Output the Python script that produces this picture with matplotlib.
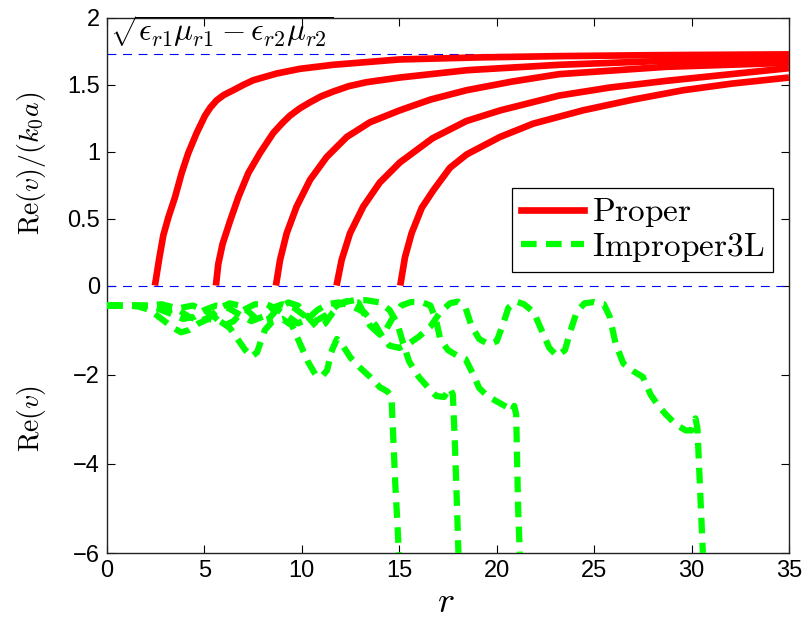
import numpy as np
import matplotlib
matplotlib.use('Agg')
import matplotlib.pyplot as plt
from matplotlib.lines import Line2D

plt.rcParams['mathtext.fontset'] = 'cm'
plt.rcParams['font.family'] = ['Liberation Sans', 'DejaVu Sans']

# ---------------- data ----------------
# Proper modes: Re(v)/(k0 a)
p1_r = [2.46, 2.69, 2.89, 3.15, 3.49, 3.83, 4.17, 4.60, 5.03, 5.3, 5.63, 6.0, 6.48, 7.0, 7.51, 8.71, 9.9, 11.6, 13.3, 15.0, 19.0, 23.2, 28.0, 35.0]
p1_y = [0.0, 0.21, 0.375, 0.51, 0.66, 0.84, 0.99, 1.14, 1.27, 1.33, 1.385, 1.425, 1.46, 1.50, 1.535, 1.585, 1.62, 1.65, 1.67, 1.69, 1.705, 1.715, 1.722, 1.728]
p2_r = [5.59, 5.71, 5.93, 6.31, 6.74, 7.25, 7.85, 8.53, 9.0, 9.39, 9.9, 10.42, 11.0, 11.61, 12.4, 13.32, 15.03, 18.5, 23.2, 28.7, 35.0]
p2_y = [0.0, 0.16, 0.31, 0.48, 0.66, 0.84, 0.99, 1.14, 1.215, 1.27, 1.325, 1.37, 1.415, 1.45, 1.49, 1.52, 1.555, 1.61, 1.65, 1.68, 1.70]
p3_r = [8.67, 8.88, 9.22, 9.73, 10.42, 11.27, 12.3, 13.49, 15.03, 16.6, 18.45, 20.8, 23.2, 28.7, 35.0]
p3_y = [0.0, 0.19, 0.39, 0.59, 0.79, 0.96, 1.11, 1.22, 1.31, 1.39, 1.46, 1.525, 1.58, 1.635, 1.665]
p4_r = [11.78, 12.04, 12.47, 13.15, 14.0, 15.03, 16.7, 18.45, 20.2, 23.2, 25.8, 28.7, 35.0]
p4_y = [0.0, 0.19, 0.39, 0.59, 0.77, 0.92, 1.10, 1.23, 1.31, 1.42, 1.48, 1.53, 1.625]
p5_r = [15.05, 15.29, 15.63, 16.15, 16.74, 17.6, 18.46, 20.16, 21.87, 24.44, 27.0, 29.57, 32.1, 35.0]
p5_y = [0.0, 0.21, 0.39, 0.58, 0.71, 0.88, 0.98, 1.11, 1.21, 1.31, 1.39, 1.46, 1.51, 1.555]

# Improper (3L) modes: Re(v)
g1_r = [0, 1.0, 1.6, 2.2, 2.8, 3.4, 3.8, 4.2, 4.7, 5.2, 5.8, 6.3, 6.7, 7.1, 7.4, 7.7, 7.9, 8.1, 8.5, 9.0, 9.5, 9.9, 10.3, 10.7, 11.0, 11.3, 11.5, 11.8, 12.1, 12.5, 13.0, 13.5, 14.0, 14.4, 14.6, 14.7, 14.8, 14.9, 15.0]
g1_y = [-0.45, -0.45, -0.47, -0.55, -0.75, -0.95, -1.05, -1.0, -0.85, -0.75, -0.8, -0.95, -1.2, -1.45, -1.6, -1.5, -1.25, -1.0, -0.8, -0.75, -0.9, -1.3, -1.7, -2.0, -2.05, -1.9, -1.5, -1.2, -1.35, -1.62, -1.85, -2.05, -2.28, -2.38, -2.5, -3.5, -4.5, -5.3, -6.2]
g2_r = [0, 1.0, 2.0, 2.8, 3.5, 4.2, 4.8, 5.3, 5.8, 6.3, 6.8, 7.3, 7.8, 8.3, 8.8, 9.3, 9.8, 10.3, 10.8, 11.2, 11.6, 12.1, 12.7, 13.3, 14.0, 14.5, 14.9, 15.2, 15.5, 16.0, 16.5, 16.9, 17.3, 17.6, 17.75, 17.85, 17.95, 18.05]
g2_y = [-0.45, -0.45, -0.45, -0.42, -0.5, -0.7, -0.8, -0.7, -0.5, -0.4, -0.45, -0.6, -0.8, -0.75, -0.5, -0.38, -0.45, -0.7, -0.95, -0.85, -0.6, -0.38, -0.33, -0.33, -0.38, -0.55, -0.85, -1.3, -1.7, -2.05, -2.3, -2.48, -2.5, -2.3, -2.45, -3.5, -4.8, -6.2]
g3_r = [0, 1.5, 2.5, 3.2, 3.9, 4.5, 5.0, 5.6, 6.2, 6.8, 7.4, 8.0, 8.5, 9.0, 9.6, 10.2, 10.7, 11.3, 11.8, 12.3, 12.9, 13.5, 14.0, 14.3, 14.7, 15.1, 15.6, 16.2, 16.6, 16.9, 17.1, 17.5, 18.0, 18.4, 18.8, 19.1, 19.5, 20.0, 20.5, 20.8, 20.9, 21.0, 21.05, 21.1, 21.2]
g3_y = [-0.45, -0.45, -0.5, -0.62, -0.75, -0.7, -0.55, -0.45, -0.5, -0.65, -0.8, -0.7, -0.5, -0.42, -0.5, -0.7, -0.8, -0.65, -0.45, -0.35, -0.38, -0.9, -1.1, -1.0, -0.7, -0.45, -0.37, -0.38, -0.45, -0.8, -1.2, -1.45, -1.58, -1.65, -2.0, -2.3, -2.47, -2.6, -2.72, -2.82, -2.7, -2.9, -4.0, -5.0, -6.2]
g4_r = [0, 2.0, 2.6, 3.2, 3.8, 4.4, 5.0, 5.5, 6.0, 6.5, 7.0, 7.6, 8.2, 8.8, 9.3, 9.8, 10.3, 10.8, 11.3, 11.9, 12.5, 13.2, 13.8, 14.2, 14.5, 15.0, 15.5, 16.0, 16.6, 17.1, 17.6, 18.0, 18.4, 18.7, 19.1, 19.6, 20.0, 20.3, 20.6, 21.0, 21.4, 21.9, 22.3, 22.7, 23.1, 23.5, 23.8, 24.1, 24.5, 25.0, 25.5, 25.8, 26.1, 26.5, 27.0, 27.5, 27.9, 28.3, 28.7, 29.2, 29.7, 30.0, 30.2, 30.3, 30.4, 30.5, 30.6]
g4_y = [-0.45, -0.45, -0.48, -0.55, -0.5, -0.45, -0.55, -0.7, -0.9, -0.8, -0.55, -0.42, -0.42, -0.55, -0.7, -0.85, -0.75, -0.55, -0.42, -0.38, -0.45, -0.6, -0.9, -1.2, -1.35, -1.4, -1.3, -1.15, -0.92, -0.6, -0.4, -0.36, -0.5, -0.9, -1.2, -1.32, -1.25, -0.9, -0.5, -0.36, -0.42, -0.6, -1.0, -1.4, -1.58, -1.45, -1.0, -0.6, -0.4, -0.37, -0.42, -0.7, -1.3, -1.75, -1.92, -2.05, -2.45, -2.7, -2.9, -3.12, -3.25, -3.25, -2.98, -3.2, -4.2, -5.2, -6.2]

ref_level = np.sqrt(3.0)
x_ticks = [0, 5, 10, 15, 20, 25, 30, 35]
y_ticks = [-6, -4, -2, 0, 0.5, 1, 1.5, 2]
y_ticklabels = ['\u22126', '\u22124', '\u22122', '0', '0.5', '1', '1.5', '2']

proper = [(p1_r, p1_y), (p2_r, p2_y), (p3_r, p3_y), (p4_r, p4_y), (p5_r, p5_y)]
improper = [(g1_r, g1_y), (g2_r, g2_y), (g3_r, g3_y), (g4_r, g4_y)]

# ---------------- figure ----------------
fig = plt.figure(figsize=(8.1, 6.2), dpi=100)
ax = fig.add_axes([107/810, 1-553/620, 682/810, 535/620])

def fwd(y):
    y = np.asarray(y, dtype=float)
    return np.where(y >= 0, y / 2.0, y / 6.0)

def inv(v):
    v = np.asarray(v, dtype=float)
    return np.where(v >= 0, v * 2.0, v * 6.0)

ax.set_yscale('function', functions=(fwd, inv))

red = '#ff0000'
green = '#00ff00'
blue = '#0000ff'

for r, y in proper:
    ax.plot(r, y, color=red, lw=4.8, solid_capstyle='butt', solid_joinstyle='round', zorder=3)
for r, y in improper:
    ax.plot(r, y, color=green, lw=4.5, dashes=(2.5, 1.5), dash_capstyle='butt', zorder=3)

ax.axhline(0, color=blue, lw=0.8, dashes=(8, 6), zorder=2)
ax.axhline(ref_level, color=blue, lw=0.8, dashes=(8, 6), zorder=2)

ax.set_xlim(0, 35)
ax.set_ylim(-6, 2)
ax.set_xticks(x_ticks)
ax.set_xticklabels([str(t) for t in x_ticks])
ax.set_yticks(y_ticks)
ax.set_yticklabels(y_ticklabels)
ax.minorticks_off()
ax.tick_params(direction='in', length=6, width=0.8, top=True, right=True,
               labelsize=17, pad=5, colors='black')
for s in ax.spines.values():
    s.set_linewidth(1.0)
    s.set_color('#222222')

ax.text(0.15, 1.82, r'$\sqrt{\epsilon_{r1}\mu_{r1}-\epsilon_{r2}\mu_{r2}}$',
        fontsize=22.5, ha='left', va='baseline', zorder=4)

fig.text(31/810, 1-163/620, r'$\mathrm{Re}(v)/(k_0a)$', rotation=90,
         ha='center', va='center', fontsize=20)
fig.text(32/810, 1-418/620, r'$\mathrm{Re}(v)$', rotation=90,
         ha='center', va='center', fontsize=20)
fig.text(446/810, 1-603/620, r'$r$', ha='center', va='center', fontsize=26)

handles = [Line2D([], [], color=red, lw=4.8),
           Line2D([], [], color=green, lw=4.5, dashes=(2.5, 1.5))]
leg = ax.legend(handles, [r'$\mathrm{Proper}$', r'$\mathrm{Improper3L}$'],
                loc='upper right', bbox_to_anchor=(0.9765, 0.682),
                borderaxespad=0, fontsize=24, handlelength=1.9,
                handletextpad=0.25, borderpad=0.25, labelspacing=0.05,
                fancybox=False, framealpha=1, edgecolor='black')
leg.get_frame().set_linewidth(0.9)

fig.savefig('out.png', dpi=100)
